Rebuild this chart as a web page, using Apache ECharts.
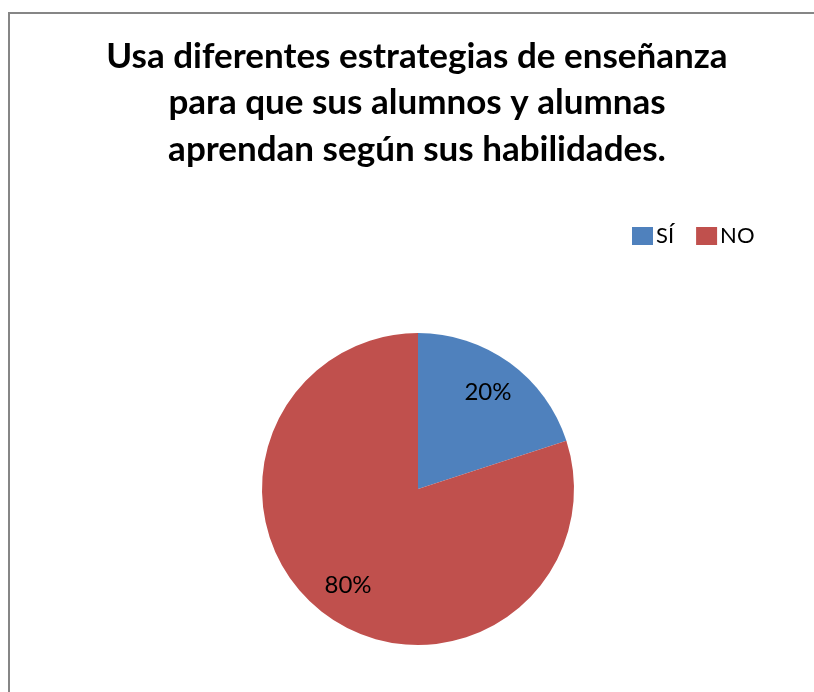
<!DOCTYPE html>
<html>
<head>
<meta charset="utf-8">
<style>
  html, body { margin: 0; padding: 0; background: #fff; }
  #frame { position: absolute; left: 8px; top: 12px; width: 900px; height: 800px;
           border-top: 2px solid #868686; border-left: 2px solid #868686; }
  #chart { position: absolute; left: 0; top: 0; width: 814px; height: 692px; }
</style>
<script src="https://cdn.jsdelivr.net/npm/echarts@6/dist/echarts.min.js"></script>
</head>
<body>
<div id="frame"></div>
<div id="chart"></div>
<script>
const categories = ['SÍ', 'NO']
const values = [20, 80]
const colors = ['#4F81BD', '#C0504D']
const titleText = 'Usa diferentes estrategias de enseñanza\npara que sus alumnos y alumnas\naprendan según sus habilidades.'

const chart = echarts.init(document.getElementById('chart'))
const pieData = categories.map((name, i) => ({ name, value: values[i], itemStyle: { color: colors[i] } }))

const option = {
  animation: false,
  title: {
    text: titleText,
    left: 417,
    textAlign: 'center',
    top: 33,
    padding: 0,
    textStyle: {
      fontFamily: 'Lato',
      fontWeight: 'bold',
      fontSize: 35,
      lineHeight: 46.5,
      color: '#000',
    },
  },
  legend: {
    data: categories,
    left: 627,
    top: 220,
    icon: 'rect',
    itemWidth: 21,
    itemHeight: 18,
    itemGap: 22,
    textStyle: { fontFamily: 'Lato', fontSize: 22, color: '#000', padding: [6, 0, 0, -2] },
  },
  series: [
    {
      type: 'pie',
      center: [418, 489],
      radius: [0, 156],
      startAngle: 90,
      clockwise: true,
      silent: true,
      label: { show: false },
      labelLine: { show: false },
      itemStyle: { borderWidth: 0 },
      data: pieData,
    },
    {
      type: 'pie',
      center: [418, 489],
      radius: [76, 156],
      startAngle: 90,
      clockwise: true,
      silent: true,
      legendHoverLink: false,
      itemStyle: { color: 'transparent', borderWidth: 0 },
      label: {
        show: true,
        position: 'inside',
        formatter: '{d}%',
        fontFamily: 'Lato',
        fontSize: 24,
        color: '#000',
      },
      labelLine: { show: false },
      data: categories.map((name, i) => ({ name, value: values[i] })),
    },
  ],
}
chart.setOption(option)
</script>
</body>
</html>
